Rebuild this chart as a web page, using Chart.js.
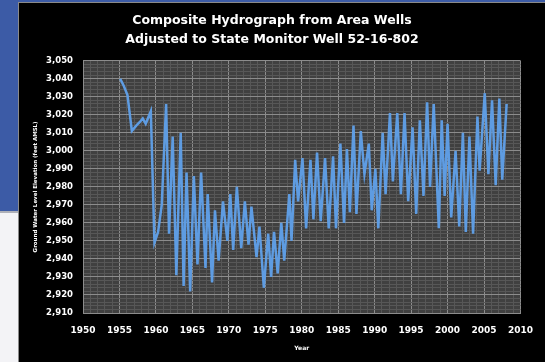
<!DOCTYPE html>
<html>
<head>
<meta charset="utf-8">
<script src="https://cdn.jsdelivr.net/npm/chart.js@4.4.0/dist/chart.umd.min.js"></script>
<style>
    html, body { margin: 0; padding: 0; }
    body { width: 545px; height: 362px; position: relative; overflow: hidden; background: #f3f3f6; }
    #blue { position: absolute; left: 0; top: 0; width: 545px; height: 211px; background: #3c5ba6; }
    #rule { position: absolute; left: 0; top: 211px; width: 20px; height: 2px; background: #aeb0b8; }
    #panel { position: absolute; left: 18px; top: 2px; width: 526px; height: 359px; background: #000;
             border-left: 1px solid #8a8a8a; border-top: 1px solid #8a8a8a; }
</style>
</head>
<body>
<div id="blue"></div>
<div id="rule"></div>
<div id="panel"><canvas id="hydroChart" width="526" height="359"></canvas></div>
<script>
// decimal year of each reading and water level (ft AMSL)
const years = [
    1955.1, 1955.6, 1956.1, 1956.7, 1957.3, 1957.8, 1958.2, 1958.6, 1959.3, 1959.8,
    1960.3, 1960.8, 1961.4, 1961.8, 1962.3, 1962.8, 1963.4, 1963.8, 1964.2, 1964.7,
    1965.2, 1965.7, 1966.2, 1966.8, 1967.1, 1967.7, 1968.1, 1968.6, 1969.2, 1969.8,
    1970.2, 1970.6, 1971.1, 1971.7, 1972.2, 1972.7, 1973.1, 1973.8, 1974.2, 1974.8,
    1975.4, 1975.8, 1976.2, 1976.7, 1977.2, 1977.6, 1978.3, 1978.6, 1979.1, 1979.5,
    1980.1, 1980.6, 1981.2, 1981.6, 1982.1, 1982.6, 1983.2, 1983.7, 1984.3, 1984.7,
    1985.3, 1985.8, 1986.2, 1986.6, 1987.1, 1987.5, 1988.1, 1988.6, 1989.2, 1989.6,
    1990.1, 1990.5, 1991.1, 1991.5, 1992.1, 1992.5, 1993.1, 1993.6, 1994.1, 1994.6,
    1995.2, 1995.7, 1996.2, 1996.7, 1997.2, 1997.6, 1998.1, 1998.8, 1999.2, 1999.6,
    2000.0, 2000.5, 2001.1, 2001.6, 2002.1, 2002.5, 2003.0, 2003.5, 2004.1, 2004.4,
    2005.1, 2005.6, 2006.1, 2006.6, 2007.1, 2007.5, 2008.1
];
const levels = [
    3040, 3036, 3031, 3011, 3014, 3016, 3018, 3015, 3022, 2949,
    2955, 2970, 3026, 2954, 3008, 2931, 3010, 2925, 2988, 2922,
    2986, 2937, 2988, 2935, 2976, 2927, 2967, 2939, 2972, 2950,
    2976, 2945, 2980, 2946, 2972, 2948, 2969, 2941, 2958, 2924,
    2954, 2930, 2955, 2932, 2960, 2939, 2976, 2950, 2995, 2972,
    2996, 2957, 2995, 2962, 2999, 2961, 2996, 2957, 2997, 2957,
    3004, 2960, 3001, 2966, 3014, 2965, 3011, 2987, 3004, 2967,
    2990, 2957, 3010, 2976, 3021, 2983, 3021, 2976, 3021, 2972,
    3013, 2965, 3017, 2975, 3027, 2980, 3026, 2957, 3017, 2975,
    3015, 2963, 3000, 2958, 3010, 2955, 3008, 2954, 3019, 2989,
    3032, 2987, 3028, 2981, 3029, 2984, 3026
];
const yearLabels = [1950, 1955, 1960, 1965, 1970, 1975, 1980, 1985, 1990, 1995, 2000, 2005, 2010];
const levelLabels = [2910, 2920, 2930, 2940, 2950, 2960, 2970, 2980, 2990, 3000, 3010, 3020, 3030, 3040, 3050];

const plotBg = {
    id: 'plotBg',
    beforeDraw(chart) {
        const a = chart.chartArea;
        chart.ctx.save();
        chart.ctx.fillStyle = '#404040';
        chart.ctx.fillRect(a.left, a.top, a.right - a.left, a.bottom - a.top);
        chart.ctx.restore();
    }
};

new Chart(document.getElementById('hydroChart'), {
    type: 'line',
    data: {
        datasets: [{
            data: years.map((x, i) => ({ x: x, y: levels[i] })),
            borderColor: '#5e9ce2',
            borderWidth: 2.5,
            pointRadius: 0,
            tension: 0
        }]
    },
    plugins: [plotBg],
    options: {
        responsive: false,
        animation: false,
        layout: { padding: { left: 0, right: 20, top: 0, bottom: 0 } },
        plugins: {
            legend: { display: false },
            tooltip: { enabled: false },
            title: {
                display: true,
                text: ['Composite Hydrograph from Area Wells', 'Adjusted to State Monitor Well 52-16-802'],
                color: '#ffffff',
                font: { family: 'DejaVu Sans', size: 12.5, weight: 'bold', lineHeight: 1.55 },
                padding: { top: 8, bottom: 11 }
            }
        },
        scales: {
            x: {
                type: 'linear',
                min: yearLabels[0],
                max: yearLabels[yearLabels.length - 1],
                afterFit: s => { s.height = 49; },
                ticks: {
                    stepSize: 1,
                    autoSkip: false,
                    maxRotation: 0,
                    padding: 12,
                    color: '#ffffff',
                    font: { family: 'DejaVu Sans', size: 9, weight: 'bold' },
                    callback: v => yearLabels.includes(v) ? String(v) : ''
                },
                grid: {
                    drawTicks: false,
                    color: c => (c.tick && c.tick.value % 5 === 0) ? '#8c8c8c' : '#575757'
                },
                border: { color: '#8c8c8c' },
                title: {
                    display: true,
                    text: 'Year',
                    color: '#ffffff',
                    font: { family: 'DejaVu Sans', size: 6, weight: 'bold' },
                    padding: { top: 0, bottom: 10 }
                }
            },
            y: {
                min: levelLabels[0],
                max: levelLabels[levelLabels.length - 1],
                afterFit: s => { s.width = 64; },
                ticks: {
                    stepSize: 2,
                    autoSkip: false,
                    padding: 10,
                    color: '#ffffff',
                    font: { family: 'DejaVu Sans', size: 8.5, weight: 'bold' },
                    callback: v => levelLabels.includes(v) ? v.toLocaleString('en-US') : ''
                },
                grid: {
                    drawTicks: false,
                    color: c => (c.tick && c.tick.value % 10 === 0) ? '#8c8c8c' : '#575757'
                },
                border: { color: '#8c8c8c' },
                title: {
                    display: true,
                    text: 'Ground Water Level Elevation (feet AMSL)',
                    color: '#ffffff',
                    font: { family: 'DejaVu Sans', size: 5.5, weight: 'bold' },
                    padding: { top: 13, bottom: 0 }
                }
            }
        }
    }
});
</script>
</body>
</html>
